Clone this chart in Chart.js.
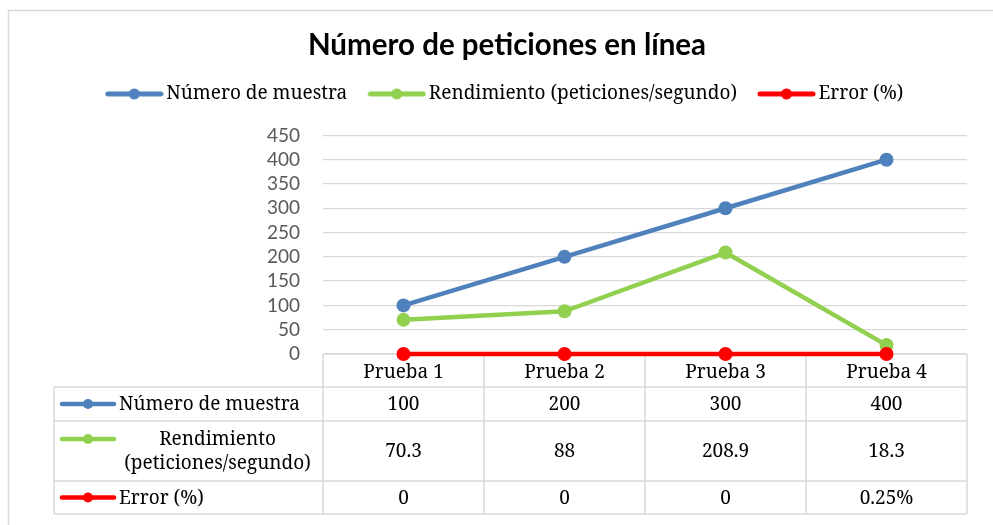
<!DOCTYPE html>
<html><head><meta charset="utf-8">
<script src="https://cdn.jsdelivr.net/npm/chart.js@4"></script>
<style>html,body{margin:0;padding:0;background:#fff}canvas{display:block}</style>
</head><body>
<canvas id="chart" width="993" height="525"></canvas>
<script>
// ---- data ----
const categories = ['Prueba 1', 'Prueba 2', 'Prueba 3', 'Prueba 4'];
const seriesNames = ['Número de muestra', 'Rendimiento (peticiones/segundo)', 'Error (%)'];
const muestra = [100, 200, 300, 400];
const rendimiento = [70.3, 88, 208.9, 18.3];
const errorFrac = [0, 0, 0, 0.0025];
const yMin = 0, yMax = 450, yStep = 50;
const tableRowLabels = [['Número de muestra'], ['Rendimiento', '(peticiones/segundo)'], ['Error (%)']];

// ---- style ----
const COLORS = ['#4F81BD', '#92D050', '#FF0000'];
const GRID = '#D9D9D9';
const SERIF = '"Noto Serif", "DejaVu Serif", serif';
const SANS = 'Lato, "Open Sans", sans-serif';
const ROW_H = [34, 60, 33];

function fmtVal(si, v) {
  if (si === 2) return v === 0 ? '0' : (+(v * 100).toFixed(4)) + '%';
  return String(v);
}

function keyImage(color) {
  const c = document.createElement('canvas');
  c.width = 60; c.height = 14;
  const g = c.getContext('2d');
  g.strokeStyle = color; g.lineWidth = 5; g.lineCap = 'round';
  g.beginPath(); g.moveTo(4, 7); g.lineTo(57, 7); g.stroke();
  g.fillStyle = color; g.beginPath(); g.arc(30.5, 7, 5.5, 0, Math.PI * 2); g.fill();
  return c;
}
const keyImgs = COLORS.map(keyImage);

const framePlugin = {
  id: 'frame',
  beforeDraw(chart) {
    const g = chart.ctx;
    g.save();
    g.strokeStyle = GRID; g.lineWidth = 1.5;
    g.strokeRect(8.5, 10.5, 2000, 2000);
    g.restore();
  }
};

const extraLegendSpace = {
  id: 'extraLegendSpace',
  beforeLayout(chart) {
    const lg = chart.legend;
    if (lg && !lg._patched) {
      const f = lg.fit;
      lg.fit = function () { f.call(this); this.height += 22; };
      lg._patched = true;
    }
  }
};

const tablePlugin = {
  id: 'dataTable',
  beforeDatasetsDraw(chart) {
    const g = chart.ctx;
    const xs = chart.scales.x;
    const n = categories.length;
    const colW = (xs.right - xs.left) / n;
    const top = xs.top;
    const hdrB = xs.bottom;
    const leftX = 54;
    const rowsY = [hdrB];
    ROW_H.forEach(h => rowsY.push(rowsY[rowsY.length - 1] + h));
    const bottom = rowsY[rowsY.length - 1];
    g.save();
    g.strokeStyle = GRID; g.lineWidth = 1.5;
    g.beginPath();
    g.moveTo(xs.left, top); g.lineTo(xs.right, top);
    rowsY.forEach(y => { g.moveTo(leftX, y); g.lineTo(xs.right, y); });
    g.moveTo(leftX, hdrB); g.lineTo(leftX, bottom);
    for (let i = 0; i <= n; i++) {
      const x = xs.left + i * colW;
      g.moveTo(x, top); g.lineTo(x, bottom);
    }
    g.stroke();

    g.fillStyle = '#000';
    g.font = '19px ' + SERIF;
    g.textBaseline = 'middle';
    const data = chart.data.datasets.map(d => d.data);
    data.forEach((arr, si) => {
      const yc = (rowsY[si] + rowsY[si + 1]) / 2;
      g.textAlign = 'center';
      arr.forEach((v, i) => {
        g.fillText(fmtVal(si, v), xs.getPixelForValue(i), yc + 1);
      });
      const lines = tableRowLabels[si];
      const lh = 24;
      const y0 = yc - (lines.length - 1) * lh / 2;
      g.strokeStyle = COLORS[si]; g.lineWidth = 4.5; g.lineCap = 'round';
      g.beginPath(); g.moveTo(62, y0); g.lineTo(114, y0); g.stroke();
      g.fillStyle = COLORS[si];
      g.beginPath(); g.arc(88, y0, 5, 0, Math.PI * 2); g.fill();
      g.fillStyle = '#000';
      if (lines.length === 1) {
        g.textAlign = 'left';
        g.fillText(lines[0], 119, y0 + 1);
      } else {
        g.textAlign = 'center';
        lines.forEach((t, k) => g.fillText(t, 217.5, y0 + k * lh + 1));
      }
    });
    g.restore();
  }
};

const seriesData = [muestra, rendimiento, errorFrac];

new Chart(document.getElementById('chart'), {
  type: 'line',
  data: {
    labels: categories,
    datasets: seriesData.map((arr, i) => ({
      label: seriesNames[i],
      data: arr,
      borderColor: COLORS[i],
      backgroundColor: COLORS[i],
      pointBackgroundColor: COLORS[i],
      pointBorderColor: COLORS[i],
      borderWidth: 4.5,
      borderCapStyle: 'round',
      borderJoinStyle: 'round',
      pointRadius: 7,
      pointBorderWidth: 0,
      pointStyle: 'circle',
      tension: 0,
      clip: false,
      order: 3 - i
    }))
  },
  options: {
    responsive: false,
    animation: false,
    layout: { padding: { left: 47, right: 26, top: 10, bottom: 138 } },
    plugins: {
      title: {
        display: true,
        text: 'Número de peticiones en línea',
        color: '#000',
        font: { family: SANS, size: 29.5, weight: 'bold', lineHeight: 1.2 },
        padding: { top: 18, bottom: -5 }
      },
      legend: {
        display: true,
        position: 'top',
        labels: {
          color: '#000',
          font: { family: SERIF, size: 19 },
          usePointStyle: true,
          pointStyleWidth: 46,
          padding: 26,
          generateLabels(chart) {
            return chart.data.datasets.map((d, i) => ({
              text: d.label,
              pointStyle: keyImgs[i],
              fillStyle: COLORS[i],
              strokeStyle: COLORS[i],
              lineWidth: 0,
              hidden: false,
              datasetIndex: i,
              fontColor: '#000'
            }));
          }
        }
      },
      tooltip: { enabled: false }
    },
    scales: {
      x: {
        offset: true,
        grid: { display: false, drawTicks: false },
        border: { display: false },
        ticks: { color: '#000', font: { family: SERIF, size: 19 }, padding: 7, maxRotation: 0, autoSkip: false },
        afterFit(s) { s.height = 33; }
      },
      y: {
        min: yMin, max: yMax,
        grid: { color: GRID, lineWidth: 1.3, drawTicks: false },
        border: { display: false },
        ticks: { stepSize: yStep, autoSkip: false, color: '#595959', font: { family: SANS, size: 19 }, padding: 23 },
        afterFit(s) { s.width = 276; }
      }
    }
  },
  plugins: [framePlugin, extraLegendSpace, tablePlugin]
});
</script>
</body></html>
